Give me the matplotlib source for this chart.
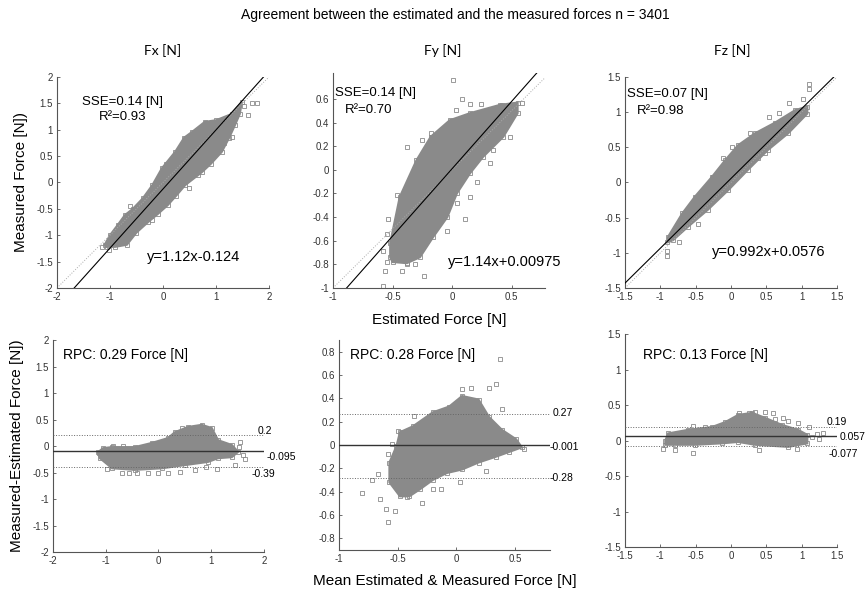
import numpy as np
import matplotlib
matplotlib.use('Agg')
import matplotlib.pyplot as plt

plt.rcParams['font.family'] = ['Liberation Sans', 'DejaVu Sans']

title = 'Agreement between the estimated and the measured forces n = 3401'
components = ['Fx [N]', 'Fy [N]', 'Fz [N]']
sse = [0.14, 0.14, 0.07]
r2 = [0.93, 0.70, 0.98]
fit_slope = [1.12, 1.14, 0.992]
fit_icpt = [-0.124, 0.00975, 0.0576]
rpc = [0.29, 0.28, 0.13]
ba_mean = [-0.095, -0.001, 0.057]
ba_upper = [0.2, 0.27, 0.19]
ba_lower = [-0.39, -0.28, -0.077]

# dense part of each cloud (outline), (estimated, measured)
fx_core = [(-1.1, -1.18), (-1.0, -1.0), (-0.85, -0.8), (-0.72, -0.62), (-0.57, -0.5),
           (-0.38, -0.3), (-0.2, -0.05), (-0.02, 0.27), (0.23, 0.58), (0.4, 0.85),
           (0.55, 0.96), (0.79, 1.15), (1.0, 1.18), (1.3, 1.3), (1.49, 1.53),
           (1.45, 1.3), (1.36, 1.09), (1.25, 0.85), (1.11, 0.58), (0.9, 0.35),
           (0.74, 0.2), (0.42, -0.05), (0.25, -0.25), (0.09, -0.43), (-0.1, -0.6),
           (-0.28, -0.75), (-0.5, -0.95), (-0.68, -1.18), (-0.9, -1.22), (-1.06, -1.22)]
fy_core = [(-0.52, -0.74), (-0.52, -0.62), (-0.44, -0.23), (-0.3, 0.08), (-0.18, 0.28),
           (-0.02, 0.42), (0.15, 0.48), (0.4, 0.55), (0.55, 0.57), (0.55, 0.48),
           (0.43, 0.28), (0.26, 0.11), (0.15, -0.03), (0.04, -0.2), (-0.04, -0.4),
           (-0.16, -0.57), (-0.27, -0.74), (-0.38, -0.79), (-0.5, -0.78)]
fz_core = [(-0.89, -0.77), (-0.69, -0.44), (-0.51, -0.2), (-0.27, 0.08), (-0.08, 0.32),
           (0.1, 0.53), (0.34, 0.7), (0.62, 0.85), (0.91, 1.03), (1.08, 1.08),
           (1.08, 0.98), (0.81, 0.7), (0.52, 0.46), (0.24, 0.18), (-0.04, -0.11),
           (-0.33, -0.39), (-0.61, -0.63), (-0.82, -0.82), (-0.9, -0.85)]

# scattered points outside the dense part
fx_out = [(1.68, 1.51), (1.77, 1.51), (1.6, 1.28), (1.52, 1.45), (1.3, 0.86), (0.66, 0.14),
          (0.32, 0.65), (0.94, 0.62), (1.15, 0.75), (-1.15, -1.22), (-1.02, -1.28),
          (-0.62, -0.45), (0.05, 0.35), (0.5, -0.1), (-0.2, -0.72)]
fy_out = [(0.01, 0.76), (0.08, 0.6), (0.15, 0.56), (0.24, 0.56), (0.03, 0.51), (0.42, 0.55),
          (0.59, 0.57), (-0.18, 0.31), (-0.25, 0.25), (-0.38, 0.19), (-0.46, -0.21),
          (-0.54, -0.42), (-0.55, -0.54), (-0.58, -0.69), (-0.55, -0.78), (-0.56, -0.86),
          (-0.42, -0.86), (-0.38, -0.8), (-0.31, -0.8), (-0.24, -0.9), (-0.58, -0.98),
          (-0.04, -0.52), (0.11, -0.42), (0.15, -0.23), (0.21, -0.1), (0.32, 0.06),
          (0.34, 0.17), (0.49, 0.28), (0.32, 0.25), (0.04, -0.28), (-0.1, -0.23)]
fz_out = [(1.1, 1.4), (1.1, 1.33), (1.02, 1.19), (0.82, 1.13), (0.68, 0.99), (0.54, 0.93),
          (0.27, 0.7), (0.01, 0.5), (-0.11, 0.35), (-0.25, 0.08), (-0.34, -0.06),
          (-0.47, -0.59), (-0.74, -0.85), (-0.91, -0.97), (-0.91, -1.05), (0.48, 0.42),
          (0.38, 0.35)]

# Bland-Altman clouds, (mean, difference)
fx_ba_core = [(-1.15, -0.12), (-1.05, -0.04), (-0.88, -0.02), (-0.45, -0.02), (-0.12, 0.06),
              (0.18, 0.15), (0.31, 0.26), (0.56, 0.36), (0.82, 0.4), (1.01, 0.34),
              (1.13, 0.11), (1.39, 0.02), (1.51, -0.11), (1.39, -0.21), (1.13, -0.23),
              (0.94, -0.3), (0.5, -0.36), (0.07, -0.42), (-0.45, -0.45), (-0.88, -0.42),
              (-1.11, -0.23)]
fy_ba_core = [(-0.51, -0.01), (-0.48, 0.11), (-0.37, 0.16), (-0.2, 0.28), (-0.06, 0.33),
              (0.05, 0.42), (0.19, 0.39), (0.28, 0.24), (0.39, 0.13), (0.51, 0.05),
              (0.56, -0.02), (0.45, -0.06), (0.34, -0.1), (0.19, -0.15), (0.05, -0.21),
              (-0.08, -0.24), (-0.2, -0.3), (-0.31, -0.38), (-0.4, -0.44), (-0.48, -0.44),
              (-0.57, -0.32), (-0.57, -0.15)]
fz_ba_core = [(-0.93, 0.0), (-0.89, 0.1), (-0.61, 0.15), (-0.27, 0.19), (-0.08, 0.26),
              (0.1, 0.36), (0.3, 0.39), (0.48, 0.32), (0.72, 0.22), (0.95, 0.15),
              (1.08, 0.08), (1.08, -0.04), (0.81, -0.09), (0.34, -0.06), (0.1, -0.02),
              (-0.13, -0.04), (-0.51, -0.06), (-0.79, -0.06), (-0.93, -0.06)]

fx_ba_out = [(0.45, 0.34), (1.55, 0.08), (1.53, -0.02), (1.6, -0.17), (1.64, -0.25),
             (1.45, -0.36), (1.11, -0.43), (0.41, -0.49), (0.18, -0.51), (-0.69, -0.51),
             (-0.98, -0.43), (-0.86, 0.0), (-0.67, 0.0), (-1.13, -0.13), (-0.2, -0.5),
             (-0.4, -0.5), (0.0, -0.5), (0.7, -0.45), (0.9, -0.4), (-0.55, -0.5)]
fy_ba_out = [(0.37, 0.74), (0.34, 0.52), (0.28, 0.49), (0.13, 0.49), (0.05, 0.48),
             (0.39, 0.31), (-0.36, 0.25), (0.58, -0.03), (0.52, -0.01), (0.25, -0.22),
             (0.03, -0.32), (-0.13, -0.38), (-0.29, -0.5), (-0.52, -0.57), (-0.58, -0.66),
             (-0.8, -0.41), (-0.72, -0.3), (-0.67, -0.25), (-0.65, -0.46), (-0.6, -0.55),
             (-0.42, -0.45), (-0.42, -0.35), (-0.2, -0.38), (-0.55, 0.01), (-0.5, 0.12),
             (-0.58, -0.08)]
fz_ba_out = [(0.11, 0.39), (0.25, 0.39), (0.34, 0.4), (0.48, 0.4), (0.59, 0.39), (0.62, 0.3),
             (0.74, 0.31), (0.81, 0.28), (0.95, 0.25), (1.1, 0.19), (1.3, 0.11), (1.22, 0.09),
             (1.15, 0.05), (1.25, 0.02), (-0.96, -0.12), (-0.79, -0.13), (-0.54, -0.18),
             (0.4, -0.13), (0.93, -0.12), (-0.54, 0.2), (-0.37, 0.19), (-0.11, 0.22)]

cores = [fx_core, fy_core, fz_core]
outs = [fx_out, fy_out, fz_out]
ba_cores = [fx_ba_core, fy_ba_core, fz_ba_core]
ba_outs = [fx_ba_out, fy_ba_out, fz_ba_out]

gray = '#8a8a8a'
fig = plt.figure(figsize=(8.67, 5.96), dpi=100)

top_pos = [[0.0657, 0.5168, 0.2445, 0.354], [0.3841, 0.5168, 0.2445, 0.3607],
           [0.7209, 0.5168, 0.2445, 0.354]]
bot_pos = [[0.0611, 0.0738, 0.2434, 0.3557], [0.391, 0.0772, 0.2434, 0.3523],
           [0.7209, 0.0822, 0.2445, 0.3574]]
top_lims = [((-2, 2), (-2, 2)), ((-1, 0.78), (-1, 0.82)), ((-1.5, 1.5), (-1.5, 1.5))]
bot_lims = [((-2, 2), (-2, 2)), ((-1, 0.8), (-0.9, 0.9)), ((-1.5, 1.5), (-1.5, 1.5))]
top_ticks = [(np.arange(-2, 2.1, 1), np.arange(-2, 2.1, 0.5)),
             (np.arange(-1, 0.6, 0.5), np.arange(-1, 0.61, 0.2)),
             (np.arange(-1.5, 1.6, 0.5), np.arange(-1.5, 1.6, 0.5))]
bot_ticks = [(np.arange(-2, 2.1, 1), np.arange(-2, 2.1, 0.5)),
             (np.arange(-1, 0.6, 0.5), np.arange(-0.8, 0.81, 0.2)),
             (np.arange(-1.5, 1.6, 0.5), np.arange(-1.5, 1.6, 0.5))]
title_x = [0.188, 0.511, 0.845]
sse_xy = [(0.118, 0.88, 0.2, 0.81), (0.01, 0.907, 0.057, 0.83), (0.01, 0.92, 0.057, 0.84)]
fit_xy = [(0.425, 0.147), (0.54, 0.12), (0.41, 0.17)]
rpc_xy = [(0.047, 0.93), (0.05, 0.93), (0.085, 0.9)]
lim_txt = [((0.97, 0.571), (1.01, 0.448), (0.943, 0.368)),
           ((1.01, 0.652), (1.0, 0.49), (1.0, 0.343)),
           ((0.953, 0.587), (1.014, 0.516), (0.958, 0.437))]


def fmt(v):
    return f'{round(float(v), 2) + 0.0:g}'


def style(ax, lims, ticks):
    ax.set_xlim(*lims[0])
    ax.set_ylim(*lims[1])
    ax.set_xticks(ticks[0])
    ax.set_yticks(ticks[1])
    ax.set_xticklabels([fmt(v) for v in ticks[0]])
    ax.set_yticklabels([fmt(v) for v in ticks[1]])
    for s in ['top', 'right']:
        ax.spines[s].set_visible(False)
    for s in ['left', 'bottom']:
        ax.spines[s].set_color('#555555')
        ax.spines[s].set_linewidth(0.8)
    ax.tick_params(direction='in', length=2.5, width=0.6, colors='#555555',
                   labelsize=7, labelcolor='#333333', pad=3)


def cloud(ax, core, out):
    c = np.array(core)
    o = np.array(out)
    ax.fill(c[:, 0], c[:, 1], color=gray, lw=1.5, zorder=1)
    ax.plot(c[:, 0], c[:, 1], 's', mfc='none', mec=gray, ms=3, mew=0.6, zorder=1)
    ax.plot(o[:, 0], o[:, 1], 's', mfc='none', mec=gray, ms=3, mew=0.6, zorder=1)


for i in range(3):
    ax = fig.add_axes(top_pos[i])
    style(ax, top_lims[i], top_ticks[i])
    cloud(ax, cores[i], outs[i])
    xl = np.array(top_lims[i][0], dtype=float)
    ax.plot(xl, xl, ':', color='#aaaaaa', lw=0.7, zorder=2)
    ax.plot(xl, fit_slope[i] * xl + fit_icpt[i], '-', color='black', lw=0.8, zorder=3)
    fig.text(title_x[i], 0.916, components[i], fontsize=10, ha='center', va='center',
             family=['Lato', 'DejaVu Sans'])
    a = sse_xy[i]
    ax.text(a[0], a[1], f'SSE={sse[i]:.2f} [N]', transform=ax.transAxes, fontsize=9.5,
            va='center')
    ax.text(a[2], a[3], f'R\u00b2={r2[i]:.2f}', transform=ax.transAxes, fontsize=9.5,
            va='center')
    ax.text(fit_xy[i][0], fit_xy[i][1], f'y={fit_slope[i]:g}x{fit_icpt[i]:+g}',
            transform=ax.transAxes, fontsize=10.5, va='center')
    if i == 0:
        ax.set_ylabel('Measured Force [N])', fontsize=11, labelpad=6)
    if i == 1:
        ax.set_xlabel('Estimated Force [N]', fontsize=11, labelpad=8)

for i in range(3):
    ax = fig.add_axes(bot_pos[i])
    style(ax, bot_lims[i], bot_ticks[i])
    cloud(ax, ba_cores[i], ba_outs[i])
    ax.axhline(ba_mean[i], color='#333333', lw=1.0, zorder=3)
    ax.axhline(ba_upper[i], color='#666666', lw=0.7, ls=':', zorder=3)
    ax.axhline(ba_lower[i], color='#666666', lw=0.7, ls=':', zorder=3)
    ax.text(rpc_xy[i][0], rpc_xy[i][1], f'RPC: {rpc[i]:.2f} Force [N]',
            transform=ax.transAxes, fontsize=10, va='center')
    for (tx, ty), v in zip(lim_txt[i], [ba_upper[i], ba_mean[i], ba_lower[i]]):
        ax.text(tx, ty, f'{v:g}', transform=ax.transAxes, fontsize=7.5, va='center',
                clip_on=False)
    if i == 0:
        ax.set_ylabel('Measured-Estimated Force [N])', fontsize=11, labelpad=6)
    if i == 1:
        ax.set_xlabel('Mean Estimated & Measured Force [N]', fontsize=11, labelpad=7)

fig.text(0.525, 0.975, title, ha='center', va='center', fontsize=10)

fig.savefig('out.png', dpi=100)
